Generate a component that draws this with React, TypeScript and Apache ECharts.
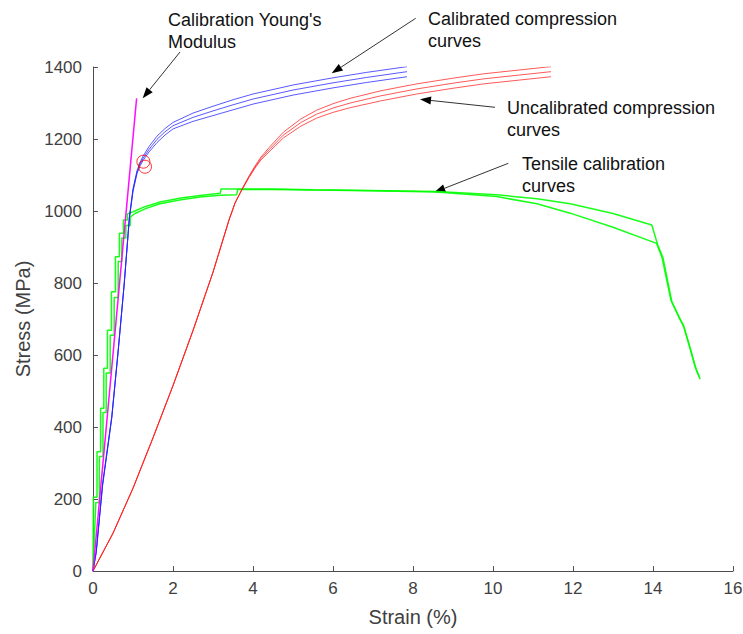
import React, { useEffect, useRef } from "react";
import * as echarts from "echarts";

// ---- data (strain %, stress MPa) ----
const youngStrain = [0, 1.09];
const youngStress = [0, 1313];

const calStrain = [0, 0.08, 0.24, 0.47, 0.63, 0.78, 0.91, 1.0, 1.1, 1.18, 1.25, 1.4, 1.6, 1.8, 2.0, 2.5, 3.0, 3.5, 4.0, 5.0, 6.0, 6.84, 7.85];
const calStressTop = [0, 55, 243, 430, 614, 799, 984, 1062, 1112, 1136, 1152, 1179, 1208, 1229, 1246, 1272, 1291, 1309, 1325, 1350, 1370, 1385, 1401];
const calStressMid = [0, 52, 240, 428, 612, 797, 982, 1058, 1108, 1131, 1146, 1171, 1199, 1220, 1237, 1260, 1278, 1295, 1311, 1336, 1356, 1371, 1387];
const calStressBot = [0, 50, 237, 425, 610, 795, 980, 1054, 1104, 1126, 1140, 1164, 1190, 1211, 1228, 1249, 1265, 1281, 1297, 1322, 1342, 1357, 1373];

const uncStrain = [0, 0.5, 1.0, 1.5, 2.0, 2.5, 3.0, 3.4, 3.55, 3.72, 3.9, 4.05, 4.2, 4.4, 4.76, 5.2, 5.59, 6.0, 6.43, 7.2, 8.09, 9.0, 9.76, 10.6, 11.45];
const uncStressTop = [0, 105, 230, 370, 515, 668, 830, 975, 1022, 1060, 1097, 1125, 1150, 1176, 1219, 1256, 1280, 1298, 1313, 1334, 1353, 1369, 1381, 1391, 1401];
const uncStressMid = [0, 105, 230, 370, 515, 668, 830, 975, 1022, 1059, 1095, 1122, 1146, 1170, 1211, 1246, 1269, 1286, 1300, 1320, 1339, 1355, 1367, 1377, 1387];
const uncStressBot = [0, 105, 230, 370, 515, 668, 830, 975, 1022, 1058, 1093, 1119, 1142, 1164, 1203, 1236, 1258, 1274, 1287, 1306, 1325, 1341, 1353, 1363, 1373];

const tens1Strain = [0, 0.01, 0.1, 0.1, 0.19, 0.19, 0.27, 0.27, 0.36, 0.36, 0.46, 0.46, 0.56, 0.56, 0.66, 0.66, 0.76, 0.76, 0.86, 0.86, 1.0, 1.3, 1.675, 2.2, 2.675, 3.18, 3.2, 3.6, 4.5, 5.5, 6.93, 8.59, 10.09, 11.1, 11.93, 13.0, 13.97, 14.12, 14.25, 14.47, 14.67, 14.76, 14.93, 15.05, 15.18];
const tens1Stress = [0, 205, 205, 331, 331, 452, 452, 563, 563, 669, 669, 776, 776, 873, 873, 938, 938, 975, 975, 992, 998, 1012, 1025, 1036, 1043, 1049, 1061, 1061, 1061, 1059, 1057, 1054, 1045, 1034, 1020, 993, 961, 905, 870, 748, 700, 682, 618, 568, 533];
const tens2Strain = [0, 0.07, 0.16, 0.16, 0.25, 0.25, 0.33, 0.33, 0.43, 0.43, 0.53, 0.53, 0.63, 0.63, 0.72, 0.72, 0.82, 0.82, 0.93, 0.93, 1.05, 1.3, 1.675, 2.2, 2.675, 3.18, 3.59, 3.62, 4.5, 5.5, 6.93, 8.59, 10.09, 11.1, 11.93, 13.0, 14.09, 14.22, 14.45, 14.65, 14.78, 14.95, 15.08, 15.15];
const tens2Stress = [0, 190, 190, 318, 318, 440, 440, 550, 550, 655, 655, 760, 760, 860, 860, 925, 925, 960, 960, 983, 993, 1006, 1020, 1031, 1039, 1044, 1045, 1060, 1060, 1058, 1056, 1053, 1040, 1020, 994, 955, 910, 873, 752, 706, 676, 610, 560, 540];

const circleStrain = [1.26, 1.3];
const circleStress = [1137, 1123];

const xTicks = { min: 0, max: 16, interval: 2 };
const yTicks = { min: 0, max: 1400, interval: 200 };

const pairs = (xs: number[], ys: number[]) => xs.map((x, i) => [x, ys[i]]);

function arrow(x1: number, y1: number, x2: number, y2: number) {
  const dx = x2 - x1, dy = y2 - y1;
  const len = Math.sqrt(dx * dx + dy * dy);
  const ux = dx / len, uy = dy / len;
  const hl = 11, hw = 4;
  const bx = x2 - ux * hl, by = y2 - uy * hl;
  return [
    { type: "line", shape: { x1, y1, x2: bx, y2: by }, style: { stroke: "#333", lineWidth: 1 } },
    {
      type: "polygon",
      shape: { points: [[x2, y2], [bx - uy * hw, by + ux * hw], [bx + uy * hw, by - ux * hw]] },
      style: { fill: "#000" },
    },
  ];
}

const label = (text: string, x: number, y: number) => ({
  type: "text",
  x,
  y,
  style: { text, fill: "#111", font: "18px 'Liberation Sans', Arial, sans-serif", lineHeight: 22 },
});

export default function App() {
  const ref = useRef<HTMLDivElement>(null);
  useEffect(() => {
    const chart = echarts.init(ref.current!, null, { renderer: "svg" });
    const curve = (data: number[][], color: string, width: number, opacity: number) => ({
      type: "line",
      data,
      showSymbol: false,
      smooth: false,
      lineStyle: { color, width, opacity },
      z: 2,
    });
    const axisFont = "'Liberation Sans', Arial";
    chart.setOption({
      animation: false,
      grid: { left: 93, right: 10, top: 67, bottom: 63, outerBoundsMode: "none" },
      xAxis: {
        type: "value",
        ...xTicks,
        name: "Strain (%)",
        nameLocation: "middle",
        nameGap: 36,
        nameTextStyle: { fontSize: 20, color: "#404040", fontFamily: axisFont },
        axisLine: { lineStyle: { color: "#4d4d4d", width: 1 } },
        axisTick: { inside: true, length: 5, lineStyle: { color: "#4d4d4d" } },
        axisLabel: { fontSize: 17, color: "#404040", fontFamily: axisFont, margin: 9 },
        splitLine: { show: false },
      },
      yAxis: {
        type: "value",
        ...yTicks,
        name: "Stress (MPa)",
        nameLocation: "middle",
        nameGap: 60,
        nameTextStyle: { fontSize: 20, color: "#404040", fontFamily: axisFont },
        axisLine: { show: true, lineStyle: { color: "#4d4d4d", width: 1 } },
        axisTick: { show: true, inside: true, length: 5, lineStyle: { color: "#4d4d4d" } },
        axisLabel: { fontSize: 17, color: "#404040", fontFamily: axisFont, margin: 11, formatter: (v: number) => String(v) },
        splitLine: { show: false },
      },
      series: [
        curve(pairs(tens1Strain, tens1Stress), "#00ff00", 1.5, 0.9),
        curve(pairs(tens2Strain, tens2Stress), "#00ff00", 1.5, 0.9),
        curve(pairs(uncStrain, uncStressTop), "#ff2020", 1, 0.75),
        curve(pairs(uncStrain, uncStressMid), "#ff2020", 1, 0.75),
        curve(pairs(uncStrain, uncStressBot), "#ff2020", 1, 0.75),
        curve(pairs(calStrain, calStressTop), "#2020ff", 1, 0.75),
        curve(pairs(calStrain, calStressMid), "#2020ff", 1, 0.75),
        curve(pairs(calStrain, calStressBot), "#2020ff", 1, 0.75),
        curve(pairs(youngStrain, youngStress), "#ff00ff", 1.5, 0.95),
        {
          type: "scatter",
          data: pairs(circleStrain, circleStress),
          symbol: "circle",
          symbolSize: 13,
          itemStyle: { color: "rgba(255,0,0,0)", borderColor: "#ff0000", borderWidth: 1 },
          z: 3,
        },
      ],
      graphic: [
        label("Calibration Young's\nModulus", 168, 9),
        label("Calibrated compression\ncurves", 428, 8),
        label("Uncalibrated compression\ncurves", 507, 97),
        label("Tensile calibration\ncurves", 522, 153),
        ...arrow(180, 52, 142.7, 98.3),
        ...arrow(415.7, 18.3, 331.7, 73.3),
        ...arrow(495, 107.3, 420, 99.3),
        ...arrow(508.3, 163.3, 434.3, 192.3),
      ],
    });
    return () => chart.dispose();
  }, []);
  return <div ref={ref} style={{ position: "fixed", left: 0, top: 0, width: 743, height: 634, background: "#fff" }} />;
}
